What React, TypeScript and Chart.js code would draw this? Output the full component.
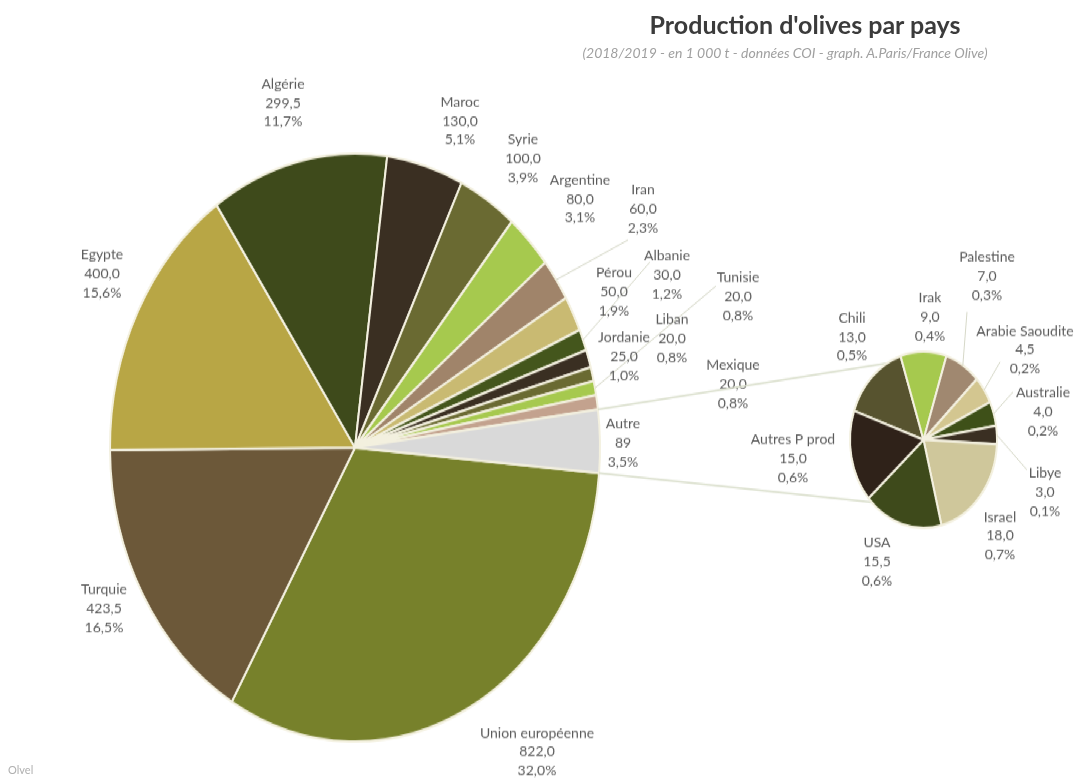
import React, { useEffect, useRef } from "react";
import { Chart, registerables } from "chart.js";
Chart.register(...registerables);

// ---- data ----
const mainLabels = ["Union européenne", "Turquie", "Egypte", "Algérie", "Maroc", "Syrie", "Argentine", "Iran", "Pérou", "Albanie", "Jordanie", "Liban", "Tunisie", "Mexique", "Autre"];
const mainValues = [822.0, 423.5, 400.0, 299.5, 130.0, 100.0, 80.0, 60.0, 50.0, 30.0, 25.0, 20.0, 20.0, 20.0, 89];
const subLabels = ["Chili", "Irak", "Palestine", "Arabie Saoudite", "Australie", "Libye", "Israel", "USA", "Autres P prod"];
const subValues = [13.0, 9.0, 7.0, 4.5, 4.0, 3.0, 18.0, 15.5, 15.0];

// ---- styles / layout ----
const mainColors = ["#77812b", "#6c5839", "#b8a645", "#3e4a1b", "#3a2f22", "#6a6a32", "#a6c94e", "#a0846a", "#c9ba72", "#44561c", "#3a2f22", "#6a6a32", "#a6c94e", "#c3a28e", "#d9d9d9"];
const subColors = ["#57532f", "#a6c94e", "#a08870", "#d3c690", "#3e5018", "#3a2f22", "#cfc79b", "#3e4a1b", "#2f2219"];
const mainLabelPos = [[537, 733], [104, 590], [102, 255], [283, 84], [460, 102], [523, 140], [580, 180], [643, 190], [614, 273], [667, 256], [624, 338], [672, 320], [738, 278], [733, 365], [623, 424]];
const subLabelPos = [[852, 318], [930, 298], [987, 257], [1025, 331], [1043, 393], [1045, 473], [1000, 517], [877, 543], [793, 440]];
const mainLeaders: Record<number, number[]> = { 7: [628, 240], 9: [650, 262], 12: [716, 286] };
const subLeaders: Record<number, number[]> = { 2: [967, 312], 3: [1000, 362], 4: [1013, 392], 5: [1027, 470] };

const W = 1075;
const H = 653;
const SY = 1.2;
const LH = 19;

function fmt(v: number, whole: boolean) {
  return whole ? String(v) : v.toFixed(1).replace(".", ",");
}

function labelPlugin(id: string, labels: string[], values: number[], total: number, pos: number[][], leaders: Record<number, number[]>, wholeIdx: number) {
  return {
    id,
    afterDatasetsDraw(chart: any) {
      const ctx = chart.ctx as CanvasRenderingContext2D;
      const meta = chart.getDatasetMeta(0);
      ctx.save();
      ctx.strokeStyle = "#d6d8c8";
      ctx.lineWidth = 1;
      Object.keys(leaders).forEach((k) => {
        const i = Number(k);
        const arc: any = meta.data[i];
        const p = arc.getProps(["x", "y", "startAngle", "endAngle", "outerRadius"], true);
        const a = (p.startAngle + p.endAngle) / 2;
        const ex = p.x + Math.cos(a) * p.outerRadius;
        const ey = p.y + Math.sin(a) * p.outerRadius;
        ctx.beginPath();
        ctx.moveTo(leaders[i][0], leaders[i][1] / SY);
        ctx.lineTo(ex, ey);
        ctx.stroke();
      });
      ctx.restore();
      labels.forEach((lab, i) => {
        const lines = [lab, fmt(values[i], i === wholeIdx), ((values[i] / total) * 100).toFixed(1).replace(".", ",") + "%"];
        ctx.save();
        ctx.translate(pos[i][0], pos[i][1] / SY);
        ctx.scale(1, 1 / SY);
        ctx.font = "14px Lato";
        ctx.fillStyle = "#5b5b5b";
        ctx.textAlign = "center";
        ctx.textBaseline = "middle";
        lines.forEach((l, k) => ctx.fillText(l, 0, k * LH));
        ctx.restore();
      });
    },
  };
}

export default function App() {
  const mainRef = useRef<HTMLCanvasElement>(null);
  const subRef = useRef<HTMLCanvasElement>(null);

  useEffect(() => {
    const total = mainValues.reduce((a, b) => a + b, 0);
    const main = new Chart(mainRef.current!, {
      type: "pie",
      data: {
        labels: mainLabels,
        datasets: [{ data: mainValues, backgroundColor: mainColors, borderColor: "#f3f0df", borderWidth: 2 }],
      },
      options: {
        responsive: false,
        maintainAspectRatio: false,
        animation: false,
        events: [],
        rotation: 95,
        layout: { padding: { left: 109, right: 474, top: 126, bottom: 33 } },
        plugins: { legend: { display: false }, tooltip: { enabled: false }, title: { display: false } },
      },
      plugins: [labelPlugin("mainLabels", mainLabels, mainValues, total, mainLabelPos, mainLeaders, mainValues.length - 1)],
    } as any);

    const connector = {
      id: "connector",
      beforeDatasetsDraw(chart: any) {
        const ctx = chart.ctx as CanvasRenderingContext2D;
        const autre: any = main.getDatasetMeta(0).data[mainValues.length - 1];
        const a = autre.getProps(["x", "y", "startAngle", "endAngle", "outerRadius"], true);
        const s: any = chart.getDatasetMeta(0).data[0];
        const b = s.getProps(["x", "y", "outerRadius"], true);
        const up = (240 * Math.PI) / 180;
        const dn = (135 * Math.PI) / 180;
        const p1 = [a.x + Math.cos(a.startAngle) * a.outerRadius, a.y + Math.sin(a.startAngle) * a.outerRadius];
        const p2 = [a.x + Math.cos(a.endAngle) * a.outerRadius, a.y + Math.sin(a.endAngle) * a.outerRadius];
        const t1 = [b.x + Math.cos(up) * b.outerRadius, b.y + Math.sin(up) * b.outerRadius];
        const t2 = [b.x + Math.cos(dn) * b.outerRadius, b.y + Math.sin(dn) * b.outerRadius];
        ctx.save();
        ctx.strokeStyle = "#dadfcc";
        ctx.lineWidth = 1.5;
        ctx.beginPath();
        ctx.moveTo(p1[0], p1[1]);
        ctx.lineTo(t1[0], t1[1]);
        ctx.moveTo(p2[0], p2[1]);
        ctx.lineTo(t2[0], t2[1]);
        ctx.stroke();
        ctx.restore();
      },
    };

    const sub = new Chart(subRef.current!, {
      type: "pie",
      data: {
        labels: subLabels,
        datasets: [{ data: subValues, backgroundColor: subColors, borderColor: "#f3f0df", borderWidth: 2 }],
      },
      options: {
        responsive: false,
        maintainAspectRatio: false,
        animation: false,
        events: [],
        rotation: -70.8,
        layout: { padding: { left: 849, right: 77, top: 292, bottom: 212 } },
        plugins: { legend: { display: false }, tooltip: { enabled: false }, title: { display: false } },
      },
      plugins: [connector, labelPlugin("subLabels", subLabels, subValues, total, subLabelPos, subLeaders, -1)],
    } as any);

    return () => {
      sub.destroy();
      main.destroy();
    };
  }, []);

  return (
    <div style={{ position: "fixed", left: 0, top: 0, width: W, height: 783, background: "#ffffff", overflow: "hidden" }}>
      <div style={{ position: "absolute", left: 0, top: 0, width: W, height: H, transform: `scaleY(${SY})`, transformOrigin: "0 0" }}>
        <canvas ref={mainRef} width={W} height={H} style={{ position: "absolute", left: 0, top: 0 }} />
        <canvas ref={subRef} width={W} height={H} style={{ position: "absolute", left: 0, top: 0 }} />
      </div>
      <div style={{ position: "absolute", left: 505, width: 600, top: 10, textAlign: "center", fontFamily: "Lato", fontWeight: 700, fontSize: 25, lineHeight: "28px", color: "#3b3b3b" }}>
        Production d'olives par pays
      </div>
      <div style={{ position: "absolute", left: 485, width: 600, top: 44, textAlign: "center", fontFamily: "Lato", fontStyle: "italic", fontSize: 14, lineHeight: "17px", color: "#a0a0a0" }}>
        (2018/2019 - en 1 000 t - données COI - graph. A.Paris/France Olive)
      </div>
      <div style={{ position: "absolute", left: 8, top: 763, fontFamily: "Lato", fontSize: 11, color: "#b0b0b0" }}>Olvel</div>
    </div>
  );
}
